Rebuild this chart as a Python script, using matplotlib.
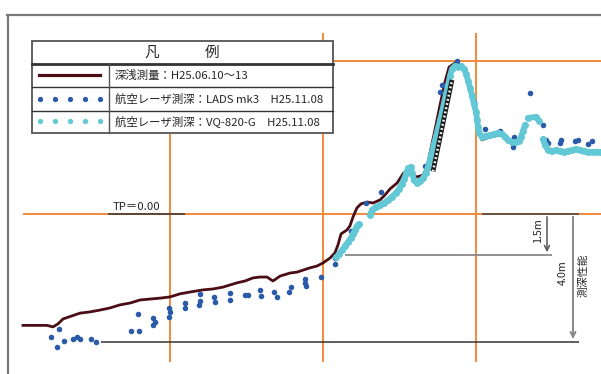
import numpy as np
import matplotlib.pyplot as plt

plt.rcParams['font.family'] = ['Noto Sans CJK JP', 'DejaVu Sans']

nan = np.nan

# 深浅測量 H25.06.10~13 : distance (m), elevation (m, TP)
sounding_x = [3.9, 19.6, 23.5, 26.8, 30.1, 35.9, 41.2, 47.7, 54.2, 60.8, 67.3, 73.9,
              80.4, 86.9, 93.5, 100.0, 106.5, 113.1, 121.6, 128.1, 134.6, 143.8, 149.0,
              154.2, 158.8, 163.4, 167.3, 171.9, 178.4, 183.0, 191.5, 196.1, 200.0, 204.6,
              207.8, 209.8, 211.8, 215.7, 217.6, 219.6, 222.2, 224.8, 228.8, 232.7, 237.3,
              240.5, 243.8, 248.4, 252.3, 254.9, 258.2, 261.4, 265.4, 268.0, 269.9, 273.2,
              276.5, 279.7, 282.4, 286.3, 290.8, 294.1, 297.4, 300.0, 302.0, 303.9, 309.2,
              315.7]
sounding_y = [-3.64, -3.64, -3.69, -3.59, -3.43, -3.33, -3.24, -3.20, -3.14, -3.07, -2.97,
              -2.91, -2.81, -2.78, -2.75, -2.71, -2.61, -2.55, -2.48, -2.45, -2.39, -2.25,
              -2.19, -2.09, -2.06, -2.06, -2.19, -2.03, -1.93, -1.90, -1.76, -1.70, -1.60,
              -1.44, -1.27, -1.01, -0.65, -0.52, -0.39, -0.10, 0.20, 0.33, 0.39, 0.36, 0.46,
              0.62, 0.82, 1.01, 1.31, 1.44, 1.27, 1.21, 1.27, 1.54, 1.99, 2.75, 3.56, 4.31,
              4.80, 4.93, 4.87, 4.44, 3.89, 3.24, 2.75, 2.42, 2.52, 2.58]

# 航空レーザ測深 LADS mk3 H25.11.08
lads_x = [22.2, 27.5, 26.1, 30.7, 36.6, 39.2, 41.2, 48.4, 51.6, 74.5, 79.7, 79.1, 88.9,
          90.2, 88.9, 99.3, 100.0, 99.3, 109.8, 109.8, 119.6, 119.6, 119.0, 128.8, 129.4,
          139.2, 139.2, 149.0, 151.0, 158.8, 159.5, 168.0, 169.9, 177.8, 179.1, 188.2,
          188.2, 188.9, 198.7, 207.8, 207.8, 218.3, 228.1, 237.9, 266.7, 276.5, 277.8,
          287.6, 297.4, 298.7, 305.9, 315.7, 324.8, 324.2, 335.3, 343.8, 345.8, 347.1,
          354.9, 355.6, 364.7, 366.7, 373.2, 375.8]
lads_y = [-4.02, -3.76, -4.35, -4.15, -4.08, -4.02, -4.08, -4.08, -4.18, -3.82, -3.82,
          -3.27, -3.40, -3.53, -3.63, -3.07, -3.20, -3.37, -2.91, -3.07, -2.61, -2.84,
          -2.97, -2.71, -2.88, -2.58, -2.81, -2.65, -2.65, -2.48, -2.68, -2.55, -2.71,
          -2.55, -2.39, -2.12, -2.25, -2.35, -2.06, -1.44, -1.63, -0.56, 0.36, 0.72, 1.57,
          3.99, 4.22, 5.00, 3.89, 3.66, 2.78, 2.71, 2.52, 2.19, 3.95, 2.91, 2.42, 2.32,
          2.32, 2.42, 2.39, 2.42, 2.29, 2.39]

# 航空レーザ測深 VQ-820-G H25.11.08 (nan = gap in coverage)
vq_x = [208.5, 210.5, 212.4, 214.4, 216.3, 218.3, 219.6, 220.9, 222.2, 223.5, nan,
        230.7, 232.0, 234.6, 237.3, 239.9, 242.5, 245.1, 247.7, 249.7, 251.6, 252.9, 254.2,
        255.6, 257.5, 258.2, 259.5, 261.4, 263.4, 265.4, 267.3, 268.6, 269.9, 271.2, 272.5,
        273.9, 275.2, 276.5, 277.8, 279.1, 280.4, 281.7, 283.0, 284.3, 286.3, 288.2, 290.2,
        292.2, 293.5, 294.8, 296.1, 297.4, 298.7, 300.0, 300.7, 301.3, 302.0, 303.9, 306.5,
        309.2, 311.8, 314.4, 317.0, 319.0, 320.9, 323.5, 326.1, 328.1, 329.4, 330.7, 332.0,
        nan, 334.0, 339.2, 341.2, nan,
        343.8, 345.1, 347.1, 349.7, 352.3, 354.9, 357.5, 360.1, 362.7, 365.4, 368.0, 370.6,
        373.2, 375.8, 378.4, 381.0]
vq_y = [-1.41, -1.31, -1.18, -1.05, -0.92, -0.78, -0.65, -0.52, -0.39, -0.33, nan,
        -0.03, 0.13, 0.23, 0.29, 0.36, 0.46, 0.56, 0.69, 0.82, 0.98, 1.14, 1.31, 1.50, 1.54,
        1.34, 1.11, 1.01, 1.08, 1.18, 1.34, 1.54, 1.76, 2.03, 2.29, 2.55, 2.81, 3.07, 3.33,
        3.63, 3.92, 4.22, 4.51, 4.74, 4.84, 4.80, 4.84, 4.74, 4.58, 4.35, 4.12, 3.86, 3.59,
        3.33, 3.07, 2.84, 2.65, 2.52, 2.55, 2.58, 2.61, 2.65, 2.61, 2.52, 2.42, 2.35, 2.35,
        2.39, 2.52, 2.71, 2.91,
        nan, 3.14, 3.17, 3.04, nan,
        2.45, 2.25, 2.09, 2.06, 2.09, 2.06, 2.03, 2.06, 2.09, 2.12, 2.09, 2.06, 2.03, 2.03,
        2.03, 2.03]

# revetment (hatched) line
wall_x = [271.9, 284.3]
wall_y = [1.39, 4.38]

grid_x = [100, 200, 300]
grid_y = [0, 5]
perf_small = -1.34   # 1.5m line
perf_large = -4.18   # 4.0m line

c_brown = '#4a0d14'
c_blue = '#2a5aa8'
c_cyan = '#62c8d6'
c_orange = '#f28a3a'
c_gray = '#7a7a7a'
c_text = '#262626'

fig = plt.figure(figsize=(6.01, 3.74), dpi=100)
ax = fig.add_axes([0, 0, 1, 1])
ax.set_xlim(-11.11, 381.70)
ax.set_ylim(-5.229, 6.993)
ax.axis('off')


def P(px, py):
    # pixel position -> axes fraction (layout only)
    return px / 601, 1 - py / 374


# frame
ax.plot([P(7, 15)[0], 1], [P(7, 15)[1]] * 2, color=c_gray, lw=1.6, transform=ax.transAxes)
ax.plot([P(8, 15)[0]] * 2, [P(8, 15)[1], 0], color=c_gray, lw=1.6, transform=ax.transAxes)

# orange grid
ax.vlines(grid_x[0], -4.84, 2.6, color=c_orange, lw=1.4, zorder=1)
ax.vlines(grid_x[1:], -4.84, 5.93, color=c_orange, lw=1.4, zorder=1)
ax.hlines(grid_y[0], 3.9, 381.7, color=c_orange, lw=1.4, zorder=1)
ax.hlines(grid_y[1], 206.5, 381.7, color=c_orange, lw=1.4, zorder=1)

# reference / performance lines
ax.hlines(0, 59.5, 109.8, color='#333333', lw=1.1, zorder=2)
ax.hlines(0, 303.9, 367.3, color='#444444', lw=1.1, zorder=2)
ax.hlines(perf_small, 214.4, 349.7, color='#888888', lw=1.3, zorder=2)
ax.hlines(perf_large, 54.9, 367.3, color='#333333', lw=1.1, zorder=2)
ax.annotate('', xy=(346.4, perf_small), xytext=(346.4, 0),
            arrowprops=dict(arrowstyle='->', color='#555555', lw=1.1, mutation_scale=9))
ax.annotate('', xy=(363.4, perf_large), xytext=(363.4, 0),
            arrowprops=dict(arrowstyle='->', color='#888888', lw=1.4, mutation_scale=9))
ax.text(77.8, 0.08, 'TP＝0.00', fontsize=8.2, color=c_text, ha='center', va='bottom')
ax.text(340.5, -0.55, '1.5m', fontsize=7.8, color=c_text, rotation=90, ha='center', va='center')
ax.text(356.9, -1.93, '4.0m', fontsize=7.8, color=c_text, rotation=90, ha='center', va='center')
ax.text(369.9, -1.99, '測深性能', fontsize=7.8, color=c_text, rotation=90, ha='center', va='center')

# data
ax.plot(sounding_x, sounding_y, color=c_brown, lw=2.0, zorder=3)
ax.plot(lads_x, lads_y, 'o', color=c_blue, ms=4.0, mec='none', zorder=4)
ax.plot(vq_x, vq_y, 'o-', color=c_cyan, ms=5.0, lw=4.2, mec='none', zorder=5,
        solid_capstyle='round')
ax.plot(wall_x, wall_y, color='#1e1e1e', lw=3.4, solid_capstyle='butt', zorder=6)
ax.plot(wall_x, wall_y, color='white', lw=1.8, dashes=(0.7, 1.0), zorder=7)

# legend table
x0, x1, xd = 32, 333, 109
rows = [41, 63.5, 87, 110.5, 133]
ax.add_patch(plt.Rectangle(P(x0, rows[-1]), (x1 - x0) / 601, (rows[-1] - rows[0]) / 374,
                           transform=ax.transAxes, facecolor='white', edgecolor='#555555',
                           lw=1.3, zorder=10))
for i, r in enumerate(rows[1:-1]):
    ax.plot([P(x0, r)[0], P(x1, r)[0]], [P(x0, r)[1]] * 2, color='#333333',
            lw=2.0 if i == 0 else 1.0, transform=ax.transAxes, zorder=11)
ax.plot([P(xd, 0)[0]] * 2, [P(0, rows[1])[1], P(0, rows[-1])[1]], color='#555555', lw=1.0,
        transform=ax.transAxes, zorder=11)
ax.text(*P(152, 53), '凡', fontsize=10.5, color=c_text, ha='center', va='center',
        transform=ax.transAxes, zorder=12)
ax.text(*P(212, 53), '例', fontsize=10.5, color=c_text, ha='center', va='center',
        transform=ax.transAxes, zorder=12)

legend_labels = ['深浅測量：H25.06.10～13',
                 '航空レーザ測深：LADS mk3　H25.11.08',
                 '航空レーザ測深：VQ-820-G　H25.11.08']
legend_y = [75, 99, 121]
dot_x = [40, 55, 70, 85, 100]
ax.plot([P(39, 0)[0], P(100, 0)[0]], [P(0, legend_y[0])[1]] * 2, color=c_brown, lw=2.3,
        transform=ax.transAxes, zorder=12)
ax.plot([P(d, 0)[0] for d in dot_x], [P(0, legend_y[1])[1]] * 5, 'o', color=c_blue, ms=3.8,
        mec='none', transform=ax.transAxes, zorder=12)
ax.plot([P(d, 0)[0] for d in dot_x], [P(0, legend_y[2])[1]] * 5, 'o', color=c_cyan, ms=3.8,
        mec='none', transform=ax.transAxes, zorder=12)
for lab, ly in zip(legend_labels, legend_y):
    ax.text(*P(115, ly), lab, fontsize=8.2, color=c_text, ha='left', va='center',
            transform=ax.transAxes, zorder=12)

fig.savefig('out.png', dpi=100)
